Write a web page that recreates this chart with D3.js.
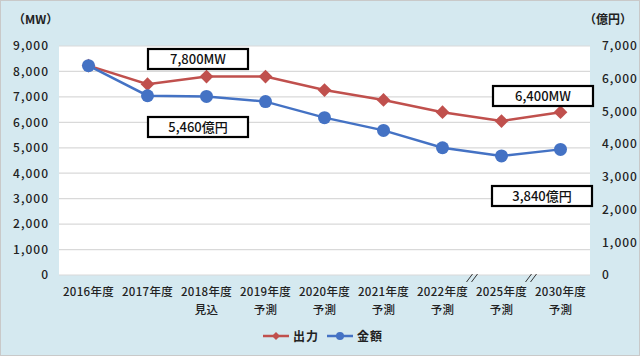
<!DOCTYPE html>
<html><head><meta charset="utf-8">
<script src="https://cdn.jsdelivr.net/npm/d3@7"></script>
<style>
html,body{margin:0;padding:0;background:#fff;}
svg{display:block;}
text{font-family:"Noto Sans CJK JP","Noto Sans",sans-serif;}
</style></head>
<body>
<svg id="chart" width="640" height="356"></svg>
<script>
const categories = ["2016年度","2017年度","2018年度","2019年度","2020年度","2021年度","2022年度","2025年度","2030年度"];
const subLabels = ["","","見込","予測","予測","予測","予測","予測","予測"];
const outputMW = [8230, 7500, 7800, 7800, 7270, 6880, 6400, 6050, 6400];
const amountOku = [6400, 5480, 5460, 5300, 4810, 4420, 3890, 3640, 3840];
const leftTicks = [0,1000,2000,3000,4000,5000,6000,7000,8000,9000];
const rightTicks = [0,1000,2000,3000,4000,5000,6000,7000];
const seriesNames = ["出力","金額"];
const leftTitle = "（MW）";
const rightTitle = "（億円）";
const callouts = [
  {text:"7,800MW", cat:"2018年度", series:0},
  {text:"5,460億円", cat:"2018年度", series:1},
  {text:"6,400MW", cat:"2030年度", series:0},
  {text:"3,840億円", cat:"2030年度", series:1}
];
const breaks = [["2022年度","2025年度"],["2025年度","2030年度"]];

const W = 640, H = 356;
const m = {left:59, right:50, top:46, bottom:81};
const pw = W - m.left - m.right, ph = H - m.top - m.bottom;
const red = "#C0504D", blue = "#4472C4";

const svg = d3.select("#chart");
svg.append("rect").attr("x",0.5).attr("y",0.5).attr("width",W-1).attr("height",H-1)
  .attr("fill","#d5e9f0").attr("stroke","#c9c9c9").attr("stroke-width",1);

const x = d3.scaleBand().domain(categories).range([m.left, m.left+pw]);
const yL = d3.scaleLinear().domain([0,9000]).range([m.top+ph, m.top]);
const yR = d3.scaleLinear().domain([0,7000]).range([m.top+ph, m.top]);
const cx = c => x(c) + x.bandwidth()/2;

svg.append("rect").attr("x",m.left).attr("y",m.top).attr("width",pw).attr("height",ph).attr("fill","#fff");

// grid
svg.append("g").selectAll("line").data(leftTicks).join("line")
  .attr("x1",m.left).attr("x2",m.left+pw)
  .attr("y1",d=>yL(d)).attr("y2",d=>yL(d))
  .attr("stroke","#d9d9d9").attr("stroke-width",1.2);

const tickStyle = s => s.attr("font-size",12).attr("font-weight",500).attr("fill","#222").attr("letter-spacing","1px");
const fmt = d3.format(",");

// left axis
const gl = svg.append("g").attr("transform",`translate(${m.left},0)`)
  .call(d3.axisLeft(yL).tickValues(leftTicks).tickFormat(fmt).tickSize(0).tickPadding(10));
gl.select(".domain").remove();
gl.selectAll("text").call(tickStyle).attr("font-family","'Noto Sans CJK JP',sans-serif");

// right axis
const gr = svg.append("g").attr("transform",`translate(${m.left+pw},0)`)
  .call(d3.axisRight(yR).tickValues(rightTicks).tickFormat(fmt).tickSize(0).tickPadding(12));
gr.select(".domain").remove();
gr.selectAll("text").call(tickStyle).attr("font-family","'Noto Sans CJK JP',sans-serif");

// axis titles
svg.append("text").attr("x",13).attr("y",24).text(leftTitle).attr("font-size",12).attr("font-weight",700).attr("fill","#222");
svg.append("text").attr("x",632).attr("y",24).attr("text-anchor","end").text(rightTitle).attr("font-size",12).attr("font-weight",700).attr("fill","#222");

// x labels
const xStyle = s => s.attr("font-size",11.5).attr("font-weight",500).attr("fill","#222").attr("letter-spacing","0.3px");
const gx = svg.append("g");
gx.selectAll("text.c").data(categories).join("text").attr("class","c")
  .attr("x",d=>cx(d)).attr("y",296).attr("text-anchor","middle")
  .text(d=>d).call(xStyle);
gx.selectAll("text.s").data(subLabels.map((s,i)=>({s,c:categories[i]}))).join("text").attr("class","s")
  .attr("x",d=>cx(d.c)).attr("y",314).attr("text-anchor","middle")
  .text(d=>d.s).call(xStyle);

// break marks
breaks.forEach(([a,b])=>{
  const bx = (cx(a)+cx(b))/2;
  [-2.5,2.5].forEach(o=>{
    svg.append("line").attr("x1",bx+o-3).attr("y1",m.top+ph+7).attr("x2",bx+o+3).attr("y2",m.top+ph-1)
      .attr("stroke","#333").attr("stroke-width",1);
  });
});

// lines
const lineL = d3.line().x((d,i)=>cx(categories[i])).y(d=>yL(d));
const lineR = d3.line().x((d,i)=>cx(categories[i])).y(d=>yR(d));
svg.append("path").attr("d",lineL(outputMW)).attr("fill","none").attr("stroke",red).attr("stroke-width",2.5);
svg.append("g").selectAll("path").data(outputMW).join("path")
  .attr("d",d3.symbol(d3.symbolDiamond2 || d3.symbolDiamond,120))
  .attr("transform",(d,i)=>`translate(${cx(categories[i])},${yL(d)})`)
  .attr("fill",red);
svg.append("path").attr("d",lineR(amountOku)).attr("fill","none").attr("stroke",blue).attr("stroke-width",2.5);
svg.append("g").selectAll("circle").data(amountOku).join("circle")
  .attr("cx",(d,i)=>cx(categories[i])).attr("cy",d=>yR(d)).attr("r",6.5).attr("fill",blue);

// callouts
const boxPos = {"7,800MW":[148,49],"5,460億円":[148,117],"6,400MW":[493,86],"3,840億円":[492,186]};
callouts.forEach(c=>{
  const [bx,by] = boxPos[c.text];
  svg.append("rect").attr("x",bx).attr("y",by).attr("width",100).attr("height",20)
    .attr("fill","#fff").attr("stroke","#000").attr("stroke-width",2.2);
  svg.append("text").attr("x",bx+50).attr("y",by+15).attr("text-anchor","middle")
    .attr("font-size",13).attr("font-weight",500).attr("fill","#111").text(c.text);
});

// legend
const lg = svg.append("g");
const items = [{n:seriesNames[0],c:red,s:"d",x:263},{n:seriesNames[1],c:blue,s:"c",x:327}];
items.forEach(it=>{
  lg.append("line").attr("x1",it.x).attr("x2",it.x+26).attr("y1",336).attr("y2",336).attr("stroke",it.c).attr("stroke-width",2.5);
  if(it.s==="d") lg.append("path").attr("d",d3.symbol(d3.symbolDiamond2 || d3.symbolDiamond,40)).attr("transform",`translate(${it.x+13},336)`).attr("fill",it.c);
  else lg.append("circle").attr("cx",it.x+13).attr("cy",336).attr("r",4).attr("fill",it.c);
  lg.append("text").attr("x",it.x+30).attr("y",341).text(it.n).attr("font-size",12).attr("font-weight",700).attr("fill","#222").attr("letter-spacing","1px");
});
</script>
</body></html>
